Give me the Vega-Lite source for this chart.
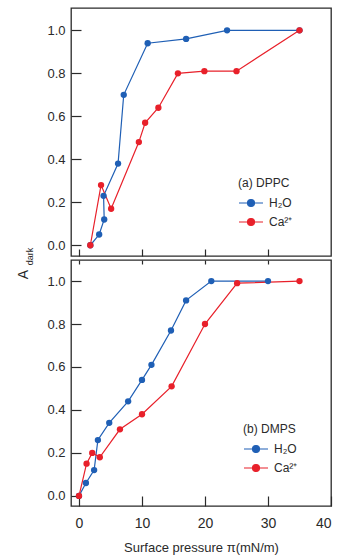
{
  "$schema": "https://vega.github.io/schema/vega-lite/v6.json",
  "autosize": {"type": "pad"},
  "padding": {"left": 15, "top": 7, "right": 5, "bottom": 5},
  "spacing": 4,
  "bounds": "flush",
  "background": "white",
  "config": {
    "font": "Liberation Sans",
    "view": {"stroke": "#2a2a2a", "strokeWidth": 1.3},
    "axis": {"grid": false, "domain": false, "tickColor": "#2a2a2a", "tickWidth": 1.2, "labelColor": "#2a2a2a", "titleColor": "#2a2a2a", "labelFont": "Liberation Sans", "titleFont": "Liberation Sans", "titleFontWeight": "normal"},
    "legend": {"padding": 0, "titleFont": "Liberation Sans", "labelFont": "Liberation Sans", "titleFontWeight": "normal", "titleFontSize": 12, "labelFontSize": 12, "titleColor": "#2a2a2a", "labelColor": "#2a2a2a", "symbolType": "M-1,0H1M0.29,0A0.29,0.29,0,1,1,-0.29,0A0.29,0.29,0,1,1,0.29,0Z", "symbolSize": 576, "symbolStrokeWidth": 1.2, "rowPadding": -1, "labelOffset": 5, "titlePadding": 0}
  },
  "datasets": {
    "dppc": [
      {"i": 1, "medium": "H₂O", "pressure": 1.8, "A": 0},
      {"i": 2, "medium": "H₂O", "pressure": 3.2, "A": 0.05},
      {"i": 3, "medium": "H₂O", "pressure": 4.0, "A": 0.12},
      {"i": 4, "medium": "H₂O", "pressure": 3.9, "A": 0.23},
      {"i": 5, "medium": "H₂O", "pressure": 6.2, "A": 0.38},
      {"i": 6, "medium": "H₂O", "pressure": 7.1, "A": 0.70},
      {"i": 7, "medium": "H₂O", "pressure": 10.9, "A": 0.94},
      {"i": 8, "medium": "H₂O", "pressure": 17.0, "A": 0.96},
      {"i": 9, "medium": "H₂O", "pressure": 23.5, "A": 1.0},
      {"i": 10, "medium": "H₂O", "pressure": 35.0, "A": 1.0},
      {"i": 11, "medium": "Ca²⁺", "pressure": 1.8, "A": 0},
      {"i": 12, "medium": "Ca²⁺", "pressure": 3.5, "A": 0.28},
      {"i": 13, "medium": "Ca²⁺", "pressure": 5.1, "A": 0.17},
      {"i": 14, "medium": "Ca²⁺", "pressure": 9.5, "A": 0.48},
      {"i": 15, "medium": "Ca²⁺", "pressure": 10.5, "A": 0.57},
      {"i": 16, "medium": "Ca²⁺", "pressure": 12.6, "A": 0.64},
      {"i": 17, "medium": "Ca²⁺", "pressure": 15.7, "A": 0.80},
      {"i": 18, "medium": "Ca²⁺", "pressure": 19.9, "A": 0.81},
      {"i": 19, "medium": "Ca²⁺", "pressure": 25.0, "A": 0.81},
      {"i": 20, "medium": "Ca²⁺", "pressure": 35.0, "A": 1.0}
    ],
    "dmps": [
      {"i": 1, "medium": "H₂O", "pressure": 0, "A": 0},
      {"i": 2, "medium": "H₂O", "pressure": 1.1, "A": 0.06},
      {"i": 3, "medium": "H₂O", "pressure": 2.4, "A": 0.12},
      {"i": 4, "medium": "H₂O", "pressure": 3.0, "A": 0.26},
      {"i": 5, "medium": "H₂O", "pressure": 4.8, "A": 0.34},
      {"i": 6, "medium": "H₂O", "pressure": 7.8, "A": 0.44},
      {"i": 7, "medium": "H₂O", "pressure": 10.0, "A": 0.54},
      {"i": 8, "medium": "H₂O", "pressure": 11.5, "A": 0.61},
      {"i": 9, "medium": "H₂O", "pressure": 14.6, "A": 0.77},
      {"i": 10, "medium": "H₂O", "pressure": 17.0, "A": 0.91},
      {"i": 11, "medium": "H₂O", "pressure": 21.0, "A": 1.0},
      {"i": 12, "medium": "H₂O", "pressure": 30.0, "A": 1.0},
      {"i": 13, "medium": "Ca²⁺", "pressure": 0, "A": 0},
      {"i": 14, "medium": "Ca²⁺", "pressure": 1.2, "A": 0.15},
      {"i": 15, "medium": "Ca²⁺", "pressure": 2.1, "A": 0.20},
      {"i": 16, "medium": "Ca²⁺", "pressure": 3.3, "A": 0.18},
      {"i": 17, "medium": "Ca²⁺", "pressure": 6.5, "A": 0.31},
      {"i": 18, "medium": "Ca²⁺", "pressure": 10.0, "A": 0.38},
      {"i": 19, "medium": "Ca²⁺", "pressure": 14.7, "A": 0.51},
      {"i": 20, "medium": "Ca²⁺", "pressure": 20.0, "A": 0.80},
      {"i": 21, "medium": "Ca²⁺", "pressure": 25.1, "A": 0.99},
      {"i": 22, "medium": "Ca²⁺", "pressure": 35.0, "A": 1.0}
    ]
  },
  "vconcat": [
    {
      "width": 260,
      "height": 248,
      "data": {"name": "dppc"},
      "encoding": {
        "x": {"field": "pressure", "type": "quantitative", "scale": {"domain": [-1.27, 40], "nice": false, "zero": false}, "axis": {"orient": "bottom", "labels": false, "title": null, "values": [0, 10, 20, 30], "tickSize": -7}},
        "y": {"field": "A", "type": "quantitative", "scale": {"domain": [-0.05, 1.104], "nice": false, "zero": false}, "axis": {"values": [0, 0.2, 0.4, 0.6, 0.8, 1.0], "format": ".1f", "tickSize": -10, "labelPadding": 16, "labelFontSize": 13, "title": "A", "titleFontSize": 14, "titleAngle": 270, "titleX": -48, "titleY": 266, "titleAlign": "center", "titleBaseline": "middle"}},
        "color": {"field": "medium", "type": "nominal", "scale": {"domain": ["H₂O", "Ca²⁺"], "range": ["#1f5fb5", "#e8202a"]}, "legend": {"title": "(a) DPPC", "orient": "none", "legendX": 167, "legendY": 170}}
      },
      "layer": [
        {"mark": {"type": "line", "strokeWidth": 1.2}, "encoding": {"order": {"field": "i", "type": "quantitative"}}},
        {"mark": {"type": "point", "filled": true, "size": 40, "opacity": 1}}
      ]
    },
    {
      "width": 260,
      "height": 246,
      "data": {"name": "dmps"},
      "encoding": {
        "y": {"field": "A", "type": "quantitative", "scale": {"domain": [-0.047, 1.098], "nice": false, "zero": false}, "axis": {"values": [0, 0.2, 0.4, 0.6, 0.8, 1.0], "format": ".1f", "tickSize": -10, "labelPadding": 16, "labelFontSize": 13, "title": "dark", "titleFontSize": 9, "titleAngle": 270, "titleX": -42, "titleY": -4, "titleAlign": "center", "titleBaseline": "middle"}},
        "color": {"field": "medium", "type": "nominal", "scale": {"domain": ["H₂O", "Ca²⁺"], "range": ["#1f5fb5", "#e8202a"]}, "legend": {"title": "(b) DMPS", "orient": "none", "legendX": 172, "legendY": 164}}
      },
      "layer": [
        {"mark": {"type": "line", "strokeWidth": 1.2}, "encoding": {
          "x": {"field": "pressure", "type": "quantitative", "scale": {"domain": [-1.27, 40], "nice": false, "zero": false}, "axis": {"orient": "bottom", "values": [0, 10, 20, 30, 40], "tickSize": -10, "labelPadding": 20, "labelFontSize": 14, "title": "Surface pressure π(mN/m)", "titleFontSize": 13, "titleY": 41, "titleBaseline": "middle"}},
          "order": {"field": "i", "type": "quantitative"}}},
        {"mark": {"type": "point", "filled": true, "size": 40, "opacity": 1}, "encoding": {
          "x": {"field": "pressure", "type": "quantitative", "scale": {"domain": [-1.27, 40], "nice": false, "zero": false}, "axis": {"orient": "top", "labels": false, "title": null, "values": [0, 10, 20, 30], "tickSize": -4}}}}
      ],
      "resolve": {"axis": {"x": "independent"}}
    }
  ],
  "resolve": {"scale": {"color": "independent"}}
}
